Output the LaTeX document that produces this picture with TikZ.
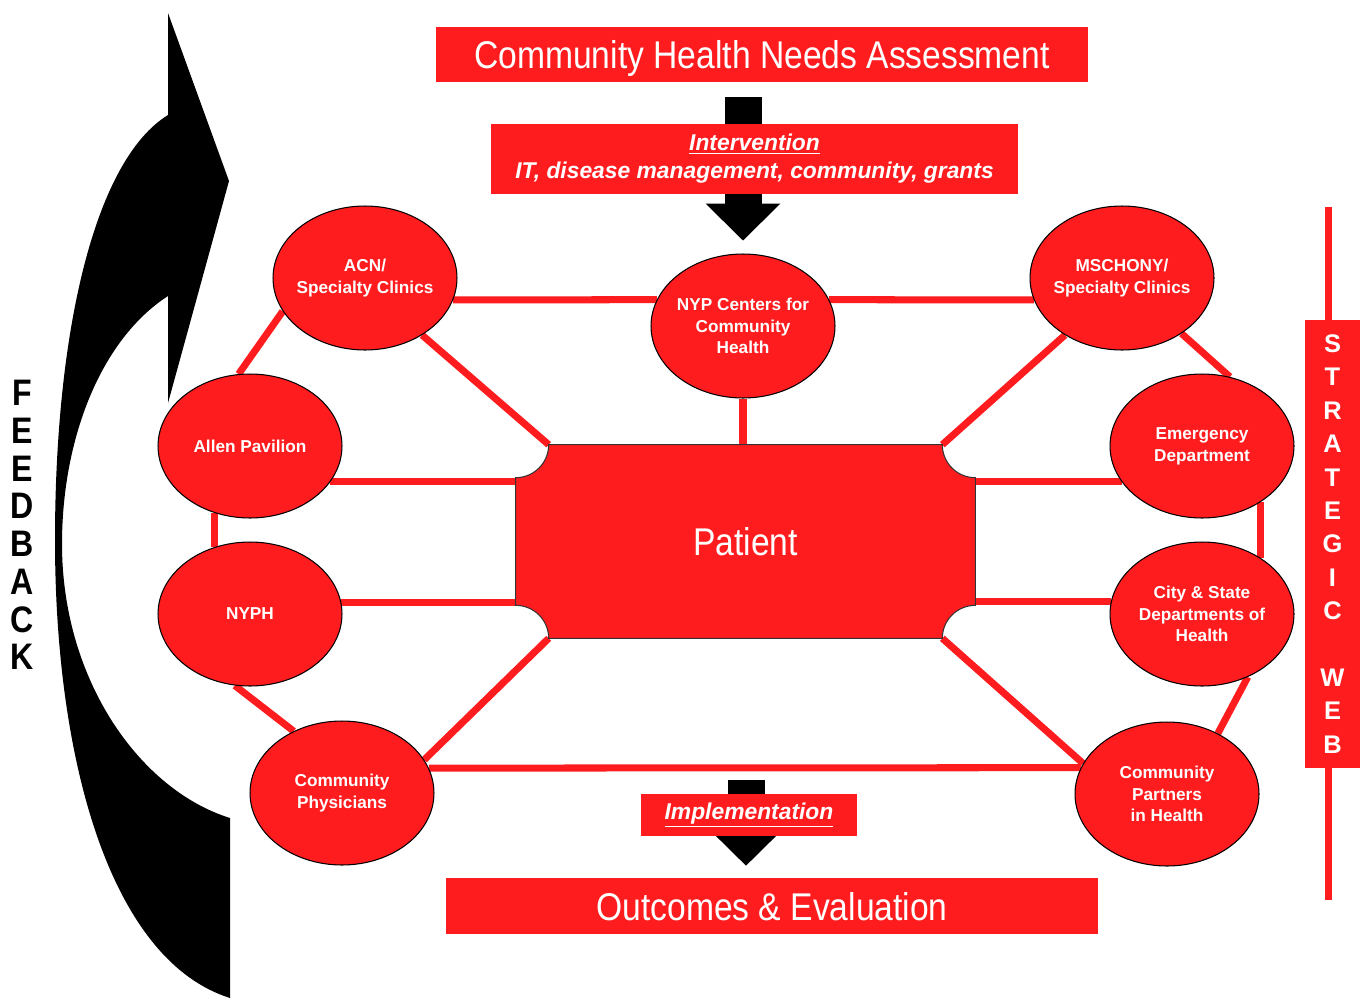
\documentclass[tikz,border=0pt]{standalone}
\usepackage{fontspec}
\setmainfont{Liberation Sans}
\newfontfamily\narrowsans{Liberation Sans}[FakeStretch=0.87]
\usetikzlibrary{shapes.geometric,arrows.meta,backgrounds}
\definecolor{webred}{RGB}{255,28,30}

\begin{document}
\begin{tikzpicture}[x=0.02cm, y=0.02cm,
    site/.style={ellipse, draw=black, line width=0.6pt, fill=webred, text=white,
      minimum width=3.68cm, minimum height=2.88cm, inner sep=0pt, inner xsep=-0.1cm,
      align=center, font=\bfseries\fontsize{9.8}{12.4}\selectfont},
    banner/.style={fill=webred, text=white, inner sep=0pt, minimum width=13.04cm,
      text depth=0pt, font=\narrowsans\fontsize{22}{26}\selectfont},
    notebox/.style={fill=webred, text=white, inner sep=0pt, align=center,
      font=\bfseries\itshape\fontsize{13}{16}\selectfont},
    link/.style={webred, line width=4pt},
    blockarrow/.style={line width=0.74cm,
      -{Triangle[width=1.5cm, length=0.74cm, line width=0pt]}}]
  \useasboundingbox (0,0) rectangle (1369,-998);

  % feedback loop
  \fill (168,-13) -- (229,-181) -- (168,-403) -- (168,-296)
    .. controls (100,-340) and (62,-440) .. (62,-544)
    .. controls (62,-680) and (140,-790) .. (230,-818)
    -- (230,-998)
    .. controls (110,-960) and (55,-760) .. (55,-540)
    .. controls (55,-330) and (95,-160) .. (168,-115)
    -- cycle;
  \node[font=\narrowsans\bfseries\fontsize{21}{21.5}\selectfont, align=center,
    inner sep=0pt] (feedback) at (22,-525) {F\\E\\E\\D\\B\\A\\C\\K};

  \node[banner, minimum height=1.1cm] (assess) at (762,-54.5)
    {Community Health Needs Assessment};
  \node[notebox, minimum width=10.54cm, minimum height=1.4cm] (interv) at (754.5,-159)
    {\underline{Intervention}\\IT, disease management, community, grants};

  \node[site] (acn) at (365,-278) {ACN/\\Specialty Clinics};
  \node[site] (nyp) at (743,-326) {NYP Centers for\\Community\\Health};
  \node[site] (mschony) at (1122,-278) {MSCHONY/\\Specialty Clinics};
  \node[site] (allen) at (250,-446) {Allen Pavilion};
  \node[site] (nyph) at (250,-614) {NYPH};
  \node[site] (phys) at (342,-793) {Community\\Physicians};
  \node[site] (emergency) at (1202,-446) {Emergency\\Department};
  \node[site] (citystate) at (1202,-614) {City \& State\\Departments of\\Health};
  \node[site] (partners) at (1167,-794) {Community\\Partners\\in Health};

  \node[minimum width=9.18cm, minimum height=3.86cm, text=white,
    font=\narrowsans\fontsize{22}{26}\selectfont] (patient) at (745.5,-541.5) {Patient};
  \coordinate (p-nw) at ([xshift=0.66cm]patient.north west);
  \coordinate (p-ne) at ([xshift=-0.66cm]patient.north east);
  \coordinate (p-se) at ([xshift=-0.66cm]patient.south east);
  \coordinate (p-sw) at ([xshift=0.66cm]patient.south west);

  \node[notebox, minimum width=4.32cm, minimum height=0.84cm] (impl) at (749,-815)
    {\underline{Implementation}};
  \node[banner, minimum height=1.12cm] (outcome) at (772,-906) {Outcomes \& Evaluation};

  \coordinate (webtop) at (1328,-207);
  \coordinate (webbottom) at (1328,-900);
  \node[fill=webred, text=white, minimum width=1.1cm, minimum height=8.96cm,
    inner sep=0pt, align=center, font=\bfseries\fontsize{14.5}{19}\selectfont]
    (strategic) at (1332.5,-544) {S\\T\\R\\A\\T\\E\\G\\I\\C\\[19pt]W\\E\\B};

  \coordinate (assess-foot) at ([yshift=-0.3cm]assess.south);
  \coordinate (impl-head) at ([xshift=-0.06cm, yshift=0.28cm]impl.north);
  \coordinate (outcome-head) at ([yshift=0.24cm]outcome.north);

  \begin{scope}[on background layer]
    \draw[blockarrow] (nyp.north |- assess-foot) -- ([yshift=0.26cm]nyp.north);
    \draw[blockarrow] (impl-head) -- (impl-head |- outcome-head);
    \draw[link] (webtop) -- (webbottom);

    \draw[link] (acn.-14) -- (nyp.163);
    \draw[link] (nyp.17) -- (mschony.194);
    \draw[link] (nyp.south) -- (nyp.south |- patient.north);
    \draw[link] (acn.-45) -- (p-nw);
    \draw[link] (mschony.225) -- (p-ne);
    \draw[link] (acn.202) -- (allen.99);
    \draw[link] (mschony.-43) -- (emergency.68);
    \draw[link] (allen.-24) -- (allen.-24 -| patient.west);
    \draw[link] (allen.242) -- (nyph.118);
    \draw[link] (nyph.7) -- (nyph.7 -| patient.west);
    \draw[link] (nyph.258) -- (phys.128);
    \draw[link] (phys.22) -- (p-sw);
    \draw[link] (phys.16) -- (partners.163);
    \draw[link] (partners.160) -- (p-se);
    \draw[link] (emergency.204) -- (emergency.204 -| patient.east);
    \draw[link] (emergency.-44) -- (citystate.44);
    \draw[link] (citystate.172) -- (citystate.172 -| patient.east);
    \draw[link] (citystate.-54) -- (partners.50);

    \filldraw[fill=webred, draw=black!80, line width=0.6pt] (p-nw) -- (p-ne)
      arc[start angle=180, end angle=270, radius=0.66cm]
      -- ([yshift=0.66cm]patient.south east)
      arc[start angle=90, end angle=180, radius=0.66cm]
      -- (p-sw)
      arc[start angle=0, end angle=90, radius=0.66cm]
      -- ([yshift=-0.66cm]patient.north west)
      arc[start angle=270, end angle=360, radius=0.66cm]
      -- cycle;
  \end{scope}
\end{tikzpicture}
\end{document}
